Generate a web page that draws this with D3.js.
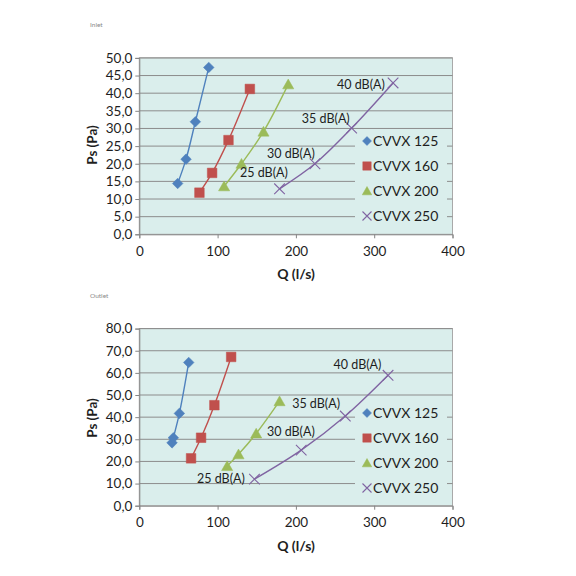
<!DOCTYPE html>
<html>
<head>
<meta charset="utf-8">
<script src="https://cdn.jsdelivr.net/npm/d3@7"></script>
<style>
  body { margin: 0; background: #fff; }
  svg { display: block; font-family: Lato, "Liberation Sans", sans-serif; }
</style>
</head>
<body>
<div id="chart"></div>
<script>
//Series names and colours
const series = ['CVVX 125', 'CVVX 160', 'CVVX 200', 'CVVX 250'];
const colours = ['#4F81BD', '#C0504D', '#9BBB59', '#8064A2'];
const shapes = ['diamond', 'square', 'triangle', 'cross'];

//Inlet values, one row per series
const inletQ = [
    [49, 59.7, 71.6, 88.7],
    [76.8, 93, 113.9, 141.2],
    [108.3, 130.5, 158.6, 190.2],
    [179.1, 224.3, 271.2, 324.1]
];
const inletPs = [
    [14.4, 21.3, 31.9, 47.3],
    [11.8, 17.4, 26.7, 41.2],
    [13.6, 20.0, 29.1, 42.5],
    [12.9, 20.0, 30.1, 42.9]
];

//Outlet values
const outletQ = [
    [41.8, 43.5, 51.2, 63.1],
    [66.1, 78.9, 95.9, 117.3],
    [112.2, 126.7, 149.3, 179.1],
    [147.1, 206.8, 263.1, 317.7]
];
const outletPs = [
    [28.4, 30.7, 41.7, 64.7],
    [21.4, 30.7, 45.4, 67.2],
    [17.9, 23.2, 32.6, 47.2],
    [12.0, 25.1, 40.5, 58.9]
];

//Sound level labels (anchored at their right end, in data units)
const dbLabels = ['25 dB(A)', '30 dB(A)', '35 dB(A)', '40 dB(A)'];
const inletLabelQ = [189.7, 224.1, 268.7, 313.6];
const inletLabelPs = [17.4, 22.8, 32.7, 42.6];
const outletLabelQ = [134.8, 224.1, 256.3, 309.2];
const outletLabelPs = [12.4, 33.7, 46.2, 63.8];

//Ticks
const xTicks = [0, 100, 200, 300, 400];
const inletYTicks = [0, 5, 10, 15, 20, 25, 30, 35, 40, 45, 50];
const outletYTicks = [0, 10, 20, 30, 40, 50, 60, 70, 80];

const WIDTH = 576;
const HEIGHT = 576;

let svg = d3.select('#chart')
.append('svg')
.attr('width', WIDTH)
.attr('height', HEIGHT);

const fmt = v => d3.format('.1f')(v).replace('.', ',');

//marker path centred on 0,0
function markerPath(shape, r) {
    if (shape == 'diamond') {
        return `M0,${-r}L${r},0L0,${r}L${-r},0Z`;
    } else if (shape == 'square') {
        return `M${-r},${-r}H${r}V${r}H${-r}Z`;
    } else if (shape == 'triangle') {
        return `M0,${-r}L${r * 1.05},${r * 0.85}L${-r * 1.05},${r * 0.85}Z`;
    } else {
        return `M${-r},${-r}L${r},${r}M${r},${-r}L${-r},${r}`;
    }
}

function drawChart(cfg) {
    const g = svg.append('g');

    const x = d3.scaleLinear().domain([0, 400]).range([139.3, 452.5]);
    const y = d3.scaleLinear().domain([0, cfg.yMax]).range([cfg.bottom, cfg.top]);

    //small title
    g.append('text')
    .attr('x', 90)
    .attr('y', cfg.titleY)
    .style('font-size', '6.5px')
    .style('fill', '#8a8a8a')
    .text(cfg.title);

    //plot background
    g.append('rect')
    .attr('x', x(0))
    .attr('y', y(cfg.yMax))
    .attr('width', x(400) - x(0))
    .attr('height', y(0) - y(cfg.yMax))
    .style('fill', '#DAEEEC')
    .style('stroke', '#a9a9a9')
    .style('stroke-width', 1);

    //gridlines
    g.append('g')
    .selectAll()
    .data(cfg.yTicks.filter(d => d > 0))
    .enter()
    .append('line')
    .attr('x1', x(0))
    .attr('x2', x(400))
    .attr('y1', d => y(d))
    .attr('y2', d => y(d))
    .style('stroke', '#8c8c8c')
    .style('stroke-width', 1);

    //axes
    const yAxis = d3.axisLeft(y).tickValues(cfg.yTicks).tickFormat(fmt).tickSize(4).tickPadding(3);
    const xAxis = d3.axisBottom(x).tickValues(xTicks).tickSize(4).tickPadding(8);

    const ya = g.append('g').attr('transform', `translate(${x(0)},0)`).call(yAxis);
    const xa = g.append('g').attr('transform', `translate(0,${y(0)})`).call(xAxis);
    [ya, xa].forEach(a => {
        a.select('.domain').style('stroke', '#868686');
        a.selectAll('.tick line').style('stroke', '#868686');
        a.selectAll('.tick text')
        .style('font-family', 'Lato, sans-serif')
        .style('font-size', '13.5px')
        .style('fill', '#1e1e1e');
    });

    //axis titles
    g.append('text')
    .attr('x', 296)
    .attr('y', cfg.xTitleY)
    .attr('text-anchor', 'middle')
    .style('font-size', '14px')
    .style('font-weight', 'bold')
    .style('fill', '#1e1e1e')
    .text('Q (l/s)');

    g.append('text')
    .attr('transform', `translate(97,${cfg.yTitleY}) rotate(-90)`)
    .attr('text-anchor', 'middle')
    .style('font-size', '13.5px')
    .style('font-weight', 'bold')
    .style('fill', '#1e1e1e')
    .text('Ps (Pa)');

    //legend box covers the gridlines
    g.append('rect')
    .attr('x', 355)
    .attr('y', cfg.legendY - 10)
    .attr('width', 92)
    .attr('height', 25 * 3 + 18)
    .style('fill', '#DAEEEC');

    //lines and markers
    const line = d3.line()
    .x(d => x(d[0]))
    .y(d => y(d[1]))
    .curve(d3.curveCatmullRom.alpha(0.5));

    series.forEach((name, i) => {
        const pts = cfg.q[i].map((q, j) => [q, cfg.ps[i][j]]);

        g.append('path')
        .datum(pts)
        .attr('d', line)
        .style('fill', 'none')
        .style('stroke', colours[i])
        .style('stroke-width', 1.4);

        g.append('g')
        .selectAll()
        .data(pts)
        .enter()
        .append('path')
        .attr('transform', d => `translate(${x(d[0])},${y(d[1])})`)
        .attr('d', markerPath(shapes[i], shapes[i] == 'square' ? 4.8 : 5.3))
        .style('fill', shapes[i] == 'cross' ? 'none' : colours[i])
        .style('stroke', colours[i])
        .style('stroke-width', shapes[i] == 'cross' ? 1.1 : 0.5);

        //legend entry
        const ly = cfg.legendY + i * 25;
        g.append('path')
        .attr('transform', `translate(367,${ly})`)
        .attr('d', markerPath(shapes[i], shapes[i] == 'square' ? 4.2 : 4.5))
        .style('fill', shapes[i] == 'cross' ? 'none' : colours[i])
        .style('stroke', colours[i])
        .style('stroke-width', shapes[i] == 'cross' ? 1.1 : 0.5);

        g.append('text')
        .attr('x', 373)
        .attr('y', ly)
        .attr('dy', '0.36em')
        .style('font-size', '14px')
        .style('fill', '#1e1e1e')
        .text(name);
    });

    //sound level labels
    g.append('g')
    .selectAll()
    .data(dbLabels)
    .enter()
    .append('text')
    .attr('x', (d, i) => x(cfg.labelQ[i]))
    .attr('y', (d, i) => y(cfg.labelPs[i]))
    .attr('dy', '0.36em')
    .attr('text-anchor', 'end')
    .style('font-size', '12.5px')
    .style('fill', '#1e1e1e')
    .text(d => d);
}

drawChart({
    title: 'Inlet', titleY: 27,
    yMax: 50, top: 57.9, bottom: 234.3, yTicks: inletYTicks,
    q: inletQ, ps: inletPs,
    labelQ: inletLabelQ, labelPs: inletLabelPs,
    legendY: 141, xTitleY: 279, yTitleY: 145
});

drawChart({
    title: 'Outlet', titleY: 298,
    yMax: 80, top: 328.6, bottom: 505.7, yTicks: outletYTicks,
    q: outletQ, ps: outletPs,
    labelQ: outletLabelQ, labelPs: outletLabelPs,
    legendY: 413, xTitleY: 551, yTitleY: 418
});
</script>
</body>
</html>
